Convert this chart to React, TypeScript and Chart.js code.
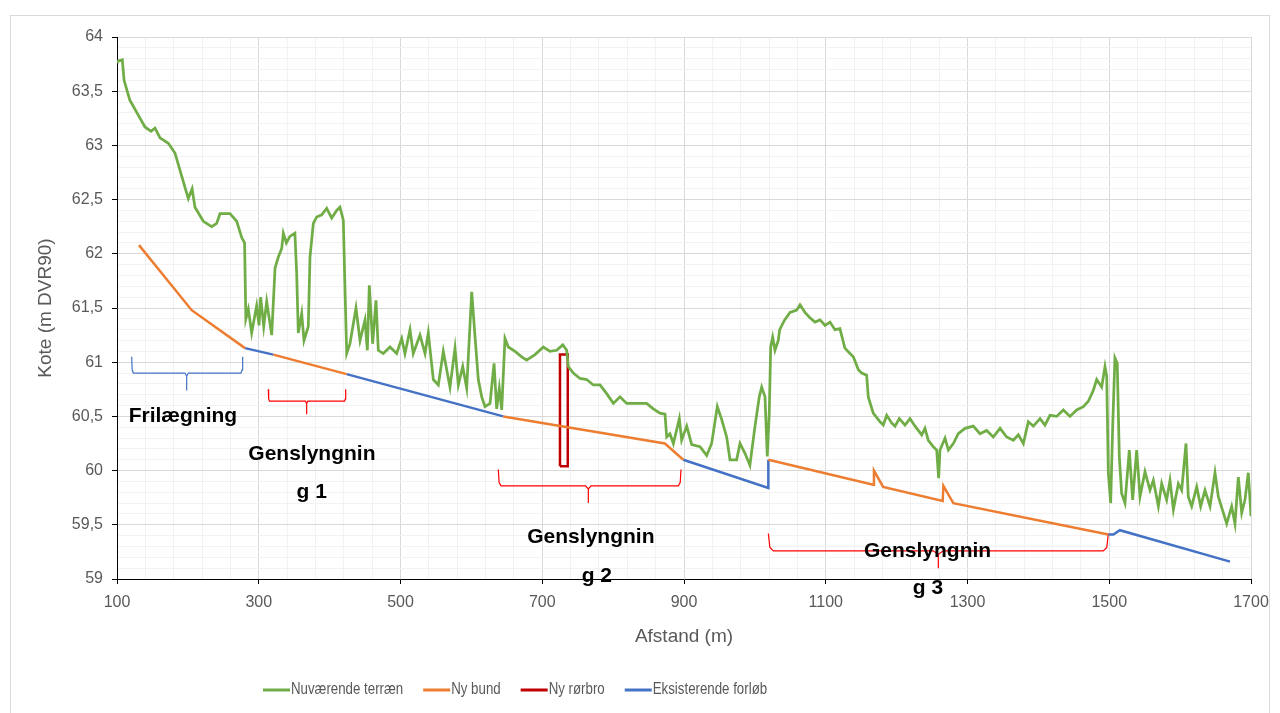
import React, { useEffect, useRef } from 'react';
import { Chart, registerables } from 'chart.js';

Chart.register(...registerables);

// ---------- data ----------
const seriesNames = ['Nuværende terræn', 'Ny bund', 'Ny rørbro', 'Eksisterende forløb'];
const seriesColors = ['#70AD47', '#ED7D31', '#C00000', '#4472C4'];

const terrainX = [
  100, 102, 107.5, 110, 118, 130, 139.5, 148, 153.6, 160.7, 172.4, 181.8, 188.9, 200.6, 206, 210, 221.8, 233.6, 240.6, 245.3,
  259.4, 268.9, 276, 280, 281.8, 285.3, 290, 297, 300.4, 302.7, 307, 311.2, 318.3, 323, 327.6, 332.4, 334.7, 339, 344, 351,
  353.5, 355.8, 360.6, 363.8, 369.9, 372.3, 377, 381.7, 388.8, 395.9, 402.9, 410, 414.6, 419.3, 421.7, 424.1, 428.7, 437.2,
  442.9, 449.9, 453.2, 456, 460.7, 465.4, 468.7, 475.7, 485.2, 494.6, 501.7, 506.3, 513.4, 518, 527.5, 534.6, 539.2, 546.3,
  553.4, 560.4, 565.2, 569.8, 576.9, 581.6, 587.8, 593.4, 600.5, 605.1, 609.8, 614.6, 619.2, 626.3, 632, 635.7, 639.4, 642.8,
  647.4, 652.1, 661.6, 671, 678, 689.8, 701.5, 711, 720.4, 728.9, 734.5, 736.8, 743.8, 753.3, 762.7, 772, 781.5, 790.9, 800.3,
  809.7, 819.1, 833.2, 847.3, 856.7, 866.1, 873.2, 875.6, 880.2, 885, 893.4, 896.7, 903.8, 910.9, 922.6, 932, 939, 947, 953.2,
  960.2, 964.9, 974.3, 979, 986, 993, 1000.2, 1006.2, 1009.6, 1014.3, 1017.5, 1020.3, 1022.3, 1025.1, 1028.4, 1033, 1035,
  1042, 1049.6, 1059, 1063.7, 1070.6, 1077.7, 1084.8, 1092, 1099, 1106, 1113, 1120, 1127, 1134.2, 1138.9, 1146, 1150.7,
  1157.7, 1160, 1167, 1176.6, 1181.2, 1186, 1193, 1197.7, 1203.8, 1211.8, 1218.9, 1226, 1235.4, 1240, 1244.7, 1251.8, 1256.5,
  1259.3, 1261.2, 1268.3, 1273, 1280, 1287, 1296.5, 1308.2, 1317.6, 1327, 1336.4, 1345.9, 1355.3, 1364.7, 1371.7, 1378.8,
  1385.8, 1392.9, 1402.3, 1409.3, 1416.4, 1425.8, 1435.2, 1444.6, 1454, 1463.5, 1470.5, 1477.5, 1482.3, 1489.3, 1494, 1496.4,
  1498.7, 1502, 1505, 1508, 1511.3, 1514.2, 1517.5, 1522.2, 1528.3, 1533, 1538.7, 1543.4, 1550.4, 1557.5, 1562.2, 1569.3,
  1574, 1581, 1585.7, 1590.5, 1597.5, 1602.2, 1608.3, 1611.5, 1616.3, 1623.4, 1629, 1635.1, 1642.2, 1649.2, 1653.9, 1661,
  1665.7, 1672.7, 1677.4, 1682.1, 1686.9, 1691.5, 1696.2, 1700,
];
const terrainY = [
  63.76, 63.78, 63.79, 63.6, 63.42, 63.28, 63.17, 63.13, 63.16, 63.07, 63.02, 62.93, 62.77, 62.51, 62.6, 62.43, 62.3, 62.25, 62.28, 62.37,
  62.37, 62.3, 62.15, 62.1, 61.4, 61.49, 61.27, 61.52, 61.34, 61.6, 61.33, 61.56, 61.25, 61.87, 61.97, 62.05, 62.19, 62.1, 62.16, 62.19,
  61.82, 61.27, 61.45, 61.2, 61.33, 61.97, 62.28, 62.34, 62.36, 62.42, 62.33, 62.4, 62.43, 62.31, 61.67, 61.08, 61.17, 61.5,
  61.2, 61.39, 61.11, 61.71, 61.17, 61.57, 61.11, 61.08, 61.14, 61.08, 61.22, 61.08, 61.3, 61.08, 61.25, 61.08, 61.27, 60.84,
  60.79, 61.1, 60.93, 60.77, 61.13, 60.79, 60.96, 60.76, 61.65, 61.24, 60.84, 60.68, 60.59, 60.62, 60.99, 60.57, 60.76, 60.56,
  61.22, 61.14, 61.1, 61.05, 61.02, 61.07, 61.14, 61.1, 61.11, 61.16, 61.11, 60.96, 60.9, 60.85, 60.84, 60.79, 60.79, 60.71, 60.62,
  60.68, 60.62, 60.62, 60.62, 60.57, 60.53, 60.52, 60.31, 60.34, 60.25, 60.48, 60.28, 60.41, 60.24, 60.22, 60.14, 60.25, 60.59, 60.47,
  60.31, 60.1, 60.1, 60.25, 60.16, 60.05, 60.41, 60.68, 60.77, 60.68, 60.13, 60.53, 61.14, 61.23, 61.11, 61.2, 61.3,
  61.39, 61.46, 61.48, 61.53, 61.46, 61.41, 61.37, 61.39, 61.34, 61.37, 61.3, 61.31, 61.13, 61.08, 61.05, 60.93, 60.9,
  60.88, 60.68, 60.53, 60.45, 60.42, 60.51, 60.44, 60.41, 60.48, 60.42, 60.48, 60.41, 60.33, 60.39, 60.28, 60.22, 60.19,
  59.93, 60.19, 60.3, 60.19, 60.25, 60.34, 60.39, 60.41, 60.34, 60.37, 60.31, 60.39, 60.31, 60.28, 60.33, 60.25,
  60.45, 60.41, 60.48, 60.42, 60.51, 60.5, 60.56, 60.5, 60.56, 60.59, 60.64, 60.74, 60.84, 60.77, 60.96, 60.87,
  59.98, 59.7, 60.44, 61.04, 60.99, 60.13, 59.79, 59.7, 60.19, 59.73, 60.19, 59.76, 59.99, 59.82, 59.91, 59.67,
  59.88, 59.73, 59.91, 59.64, 59.88, 59.82, 60.25, 59.76, 59.67, 59.85, 59.67, 59.82, 59.67, 59.98, 59.76, 59.61,
  59.51, 59.67, 59.51, 59.94, 59.61, 59.73, 59.98, 59.58,
];

const newBedX = [131, 205.4, 280.6, 300, 320.5, 424, 530, 645, 873, 899, 960, 1019, 1167, 1168, 1181, 1265, 1266, 1280, 1498.7];
const newBedY = [62.08, 61.48, 61.13, null, 61.07, 60.89, null, 60.5, 60.25, 60.1, null, 60.1, 59.87, 60.0, 59.85, 59.72, 59.86, 59.7, 59.41];

const bridgeX = [725, 725, 736, 736, 725];
const bridgeY = [60.04, 61.07, 61.07, 60.04, 60.04];

const existingX = [280.6, 320.5, 372, 424, 645, 772, 899, 1019, 1019, 1259, 1498.7, 1505.8, 1515, 1670.4];
const existingY = [61.13, 61.07, null, 60.89, 60.5, null, 60.1, 59.84, 60.1, null, 59.41, 59.41, 59.45, 59.16];

// braces: [left, right, centre, top, bottom, tip]
const braceBlue = [120.7, 277.3, 198.3, 61.05, 60.9, 60.74];
const braceRed1 = [313.5, 422.7, 367.6, 60.75, 60.64, 60.52];
const braceRed2 = [638, 895.8, 765, 60.01, 59.86, 59.7];
const braceRed3 = [1019, 1498.7, 1258.8, 59.42, 59.26, 59.1];

const labelTexts = ['Frilægning', 'Genslyngnin', 'g 1', 'Genslyngnin', 'g 2', 'Genslyngnin', 'g 3'];
const labelX = [193, 375, 374.7, 768.6, 777, 1243.6, 1244.3];
const labelY = [60.451, 60.098, 59.747, 59.329, 58.97, 59.2, 58.86];

const FONT = '"Liberation Sans", Arial, sans-serif';

function pts(xs: number[], ys: (number | null)[]) {
  return xs.map((x, i) => ({ x, y: ys[i] }));
}

function brace(b: number[]) {
  const [l, r, c, top, bot, tip] = b;
  const w = (r - l) * 0.015;
  const d = (top - bot) * 0.2;
  return [
    { x: l, y: top },
    { x: l + w * 0.3, y: bot + d },
    { x: l + w, y: bot },
    { x: c - w, y: bot },
    { x: c, y: bot - d },
    { x: c, y: tip },
    { x: c, y: bot - d },
    { x: c + w, y: bot },
    { x: r - w, y: bot },
    { x: r - w * 0.3, y: bot + d },
    { x: r, y: top },
  ];
}

export default function App() {
  const ref = useRef<HTMLCanvasElement>(null);

  useEffect(() => {
    if (!ref.current) return;

    const overlay = {
      id: 'overlay',
      beforeDraw(chart: any) {
        const { ctx } = chart;
        ctx.save();
        ctx.fillStyle = '#ffffff';
        ctx.fillRect(0, 0, chart.width, chart.height);
        ctx.strokeStyle = '#D9D9D9';
        ctx.lineWidth = 1;
        ctx.strokeRect(10.5, 15.5, 1259, 710);
        ctx.restore();
      },
      afterDraw(chart: any) {
        const { ctx } = chart;
        const xs = chart.scales.x;
        const ys = chart.scales.y;
        ctx.save();
        ctx.font = 'bold 21px ' + FONT;
        ctx.fillStyle = '#000000';
        ctx.textAlign = 'center';
        ctx.textBaseline = 'alphabetic';
        labelTexts.forEach((t, i) => {
          ctx.fillText(t, xs.getPixelForValue(labelX[i]), ys.getPixelForValue(labelY[i]));
        });
        // legend (condensed like Calibri)
        ctx.font = '16px ' + FONT;
        ctx.textAlign = 'left';
        ctx.textBaseline = 'middle';
        const squeeze = 0.83;
        let lx = 263;
        const ly = 690;
        seriesNames.forEach((name, i) => {
          ctx.strokeStyle = seriesColors[i];
          ctx.lineWidth = 3;
          ctx.beginPath();
          ctx.moveTo(lx, ly);
          ctx.lineTo(lx + 27, ly);
          ctx.stroke();
          ctx.fillStyle = '#595959';
          ctx.save();
          ctx.translate(lx + 28, ly);
          ctx.scale(squeeze, 1);
          ctx.fillText(name, 0, 0);
          ctx.restore();
          lx += 28 + ctx.measureText(name).width * squeeze + 20;
        });
        ctx.restore();
      },
    };

    const lineDs = (label: string, data: any[], color: string, width: number) => ({
      label,
      data,
      borderColor: color,
      backgroundColor: color,
      borderWidth: width,
      pointRadius: 0,
      pointHoverRadius: 0,
      showLine: true,
      fill: false,
      tension: 0,
      spanGaps: false,
    });

    const chart = new Chart(ref.current, {
      type: 'scatter',
      data: {
        datasets: [
          lineDs(seriesNames[0], pts(terrainX, terrainY), seriesColors[0], 2.75),
          lineDs(seriesNames[1], pts(newBedX, newBedY), seriesColors[1], 2.5),
          lineDs(seriesNames[2], pts(bridgeX, bridgeY), seriesColors[2], 2.5),
          lineDs(seriesNames[3], pts(existingX, existingY), seriesColors[3], 2.5),
          lineDs('brace0', brace(braceBlue), '#4472C4', 1.2),
          lineDs('brace1', brace(braceRed1), '#FF0000', 1.2),
          lineDs('brace2', brace(braceRed2), '#FF0000', 1.2),
          lineDs('brace3', brace(braceRed3), '#FF0000', 1.2),
        ] as any,
      },
      options: {
        responsive: false,
        animation: false,
        devicePixelRatio: 1,
        layout: { padding: { top: 37, right: 29, bottom: 0, left: 0 } },
        plugins: {
          legend: { display: false },
          tooltip: { enabled: false },
        },
        scales: {
          x: {
            type: 'linear',
            min: 100,
            max: 1700,
            afterFit: (s: any) => { s.height = 134; },
            ticks: {
              stepSize: 40,
              autoSkip: false,
              maxRotation: 0,
              padding: 9,
              color: '#595959',
              font: { family: FONT, size: 16 },
              callback: (v: any) => (Math.round(v - 100) % 200 === 0 ? String(Math.round(v)) : ''),
            },
            grid: {
              color: (c: any) => (Math.round(c.tick.value - 100) % 200 === 0 ? '#D9D9D9' : '#F2F2F2'),
              tickColor: (c: any) => (Math.round(c.tick.value - 100) % 200 === 0 ? '#000000' : 'rgba(0,0,0,0)'),
              tickLength: 5,
              lineWidth: 1,
            },
            border: { color: '#000000', width: 1 },
            title: {
              display: true,
              text: 'Afstand (m)',
              color: '#595959',
              font: { family: FONT, size: 19 },
              padding: { top: 0, bottom: 65 },
            },
          },
          y: {
            type: 'linear',
            min: 59,
            max: 64,
            afterFit: (s: any) => { s.width = 117; },
            ticks: {
              stepSize: 0.1,
              autoSkip: false,
              padding: 9,
              color: '#595959',
              font: { family: FONT, size: 16 },
              callback: (v: any) => {
                const r = Math.round(v * 10);
                if (r % 5 !== 0) return '';
                return (r % 10 === 0 ? String(r / 10) : (r / 10).toFixed(1)).replace('.', ',');
              },
            },
            grid: {
              color: (c: any) => (Math.round(c.tick.value * 10) % 5 === 0 ? '#D9D9D9' : '#F2F2F2'),
              tickColor: (c: any) => (Math.round(c.tick.value * 10) % 5 === 0 ? '#000000' : 'rgba(0,0,0,0)'),
              tickLength: 5,
              lineWidth: 1,
            },
            border: { color: '#000000', width: 1 },
            title: {
              display: true,
              text: 'Kote (m DVR90)',
              color: '#595959',
              font: { family: FONT, size: 19 },
              padding: { top: 34, bottom: 0 },
            },
          },
        },
      } as any,
      plugins: [overlay],
    });

    return () => chart.destroy();
  }, []);

  return (
    <div style={{ position: 'absolute', left: 0, top: 0, width: 1280, height: 713 }}>
      <canvas ref={ref} width={1280} height={713} style={{ display: 'block' }} />
    </div>
  );
}
